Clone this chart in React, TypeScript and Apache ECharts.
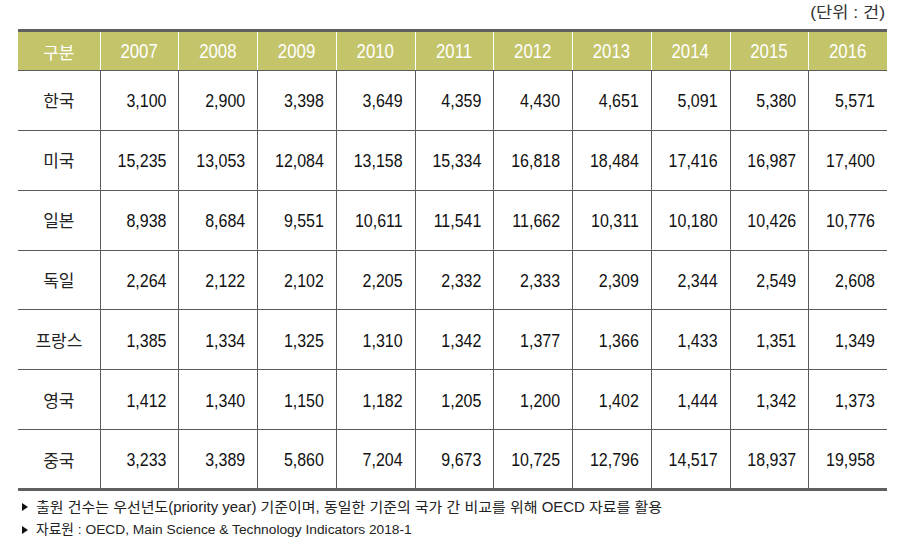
import React, { useEffect, useRef } from 'react';
import * as echarts from 'echarts';

const cornerLabel = '구분';
const years = ['2007', '2008', '2009', '2010', '2011', '2012', '2013', '2014', '2015', '2016'];
const countries = ['한국', '미국', '일본', '독일', '프랑스', '영국', '중국'];
const korea = [3100, 2900, 3398, 3649, 4359, 4430, 4651, 5091, 5380, 5571];
const usa = [15235, 13053, 12084, 13158, 15334, 16818, 18484, 17416, 16987, 17400];
const japan = [8938, 8684, 9551, 10611, 11541, 11662, 10311, 10180, 10426, 10776];
const germany = [2264, 2122, 2102, 2205, 2332, 2333, 2309, 2344, 2549, 2608];
const france = [1385, 1334, 1325, 1310, 1342, 1377, 1366, 1433, 1351, 1349];
const uk = [1412, 1340, 1150, 1182, 1205, 1200, 1402, 1444, 1342, 1373];
const china = [3233, 3389, 5860, 7204, 9673, 10725, 12796, 14517, 18937, 19958];
const unitLabel = '(단위 : 건)';
const notes = [
  '출원 건수는 우선년도(priority year) 기준이며, 동일한 기준의 국가 간 비교를 위해 OECD 자료를 활용',
  '자료원 : OECD, Main Science & Technology Indicators 2018-1',
];

const rowValues = [korea, usa, japan, germany, france, uk, china];
const columns = [cornerLabel, ...years];

const HEADER_FILL = '#c4c46b';
const GRID_LINE = '#5a5a5a';
const BORDER = '#5f5f5f';
const FIRST_EXTRA = 3;
const LATIN = '"Liberation Sans", Arial, sans-serif';
const KR = '"Noto Sans CJK KR", sans-serif';
const MIXED = '"Liberation Sans", "Noto Sans CJK KR", sans-serif';

const fmt = (v: number) => v.toLocaleString('en-US');
const snap = (v: number) => Math.round(v) + 0.5;

function ln(x1: number, y1: number, x2: number, y2: number, w: number, c: string) {
  return { type: 'line', shape: { x1, y1, x2, y2 }, style: { stroke: c, lineWidth: w }, silent: true };
}

function txt(x: number, y: number, text: string, align: string, size: number, family: string, fill: string, sy = 1) {
  return {
    type: 'text',
    x,
    y,
    scaleY: sy,
    style: {
      text,
      fill,
      fontSize: size,
      fontFamily: family,
      align,
      verticalAlign: 'middle',
      textAlign: align,
      textVerticalAlign: 'middle',
    },
    silent: true,
  };
}

function cellBox(api: any) {
  const col = api.value(0);
  const row = api.value(1);
  const c = api.coord([col, row]);
  const s = api.size([1, 1]);
  let x0 = c[0] - s[0] / 2;
  const x1 = c[0] + s[0] / 2;
  if (col === 0) x0 -= FIRST_EXTRA;
  return { col, row, x0, x1, y0: c[1] - s[1] / 2, y1: c[1] + s[1] / 2 };
}

function renderHeader(_params: any, api: any) {
  const { col, x0, x1, y0, y1 } = cellBox(api);
  const rx0 = Math.round(x0), rx1 = Math.round(x1);
  const children: any[] = [
    { type: 'rect', shape: { x: rx0, y: Math.round(y0), width: rx1 - rx0, height: Math.round(y1) - Math.round(y0) }, style: { fill: HEADER_FILL }, silent: true },
  ];
  if (col > 0) children.push(ln(snap(x0), y0, snap(x0), y1, 1, '#ffffff'));
  children.push(ln(rx0, snap(y0), rx1, snap(y0), 3, BORDER));
  children.push(ln(rx0, snap(y1), rx1, snap(y1), 1, GRID_LINE));
  const cx = (x0 + x1) / 2;
  const cy = (y0 + y1) / 2 + 1;
  if (col === 0) children.push(txt(cx, cy, columns[col], 'center', 17, KR, '#ffffff'));
  else children.push(txt(cx, cy, columns[col], 'center', 16.8, LATIN, '#ffffff', 1.18));
  return { type: 'group', children };
}

function renderBody(_params: any, api: any) {
  const { col, row, x0, x1, y0, y1 } = cellBox(api);
  const rx0 = Math.round(x0), rx1 = Math.round(x1);
  const children: any[] = [];
  if (col > 0) children.push(ln(snap(x0), y0, snap(x0), y1, 1, GRID_LINE));
  const last = row === countries.length - 1;
  children.push(ln(rx0, snap(y1), rx1, snap(y1), last ? 3 : 1, last ? BORDER : GRID_LINE));
  const cy = (y0 + y1) / 2;
  if (col === 0) {
    children.push(txt((x0 + x1) / 2, cy, countries[row], 'center', 17, KR, '#222222'));
  } else {
    children.push(txt(x1 - 12, cy + 1, fmt(rowValues[row][col - 1]), 'right', 16, LATIN, '#111111', 1.15));
  }
  return { type: 'group', children };
}

export default function App() {
  const ref = useRef<HTMLDivElement>(null);
  useEffect(() => {
    if (!ref.current) return;
    const chart = echarts.init(ref.current, undefined, { renderer: 'svg' });
    const headerData = columns.map((_, i) => [i, 0]);
    const bodyData: number[][] = [];
    countries.forEach((_, r) => columns.forEach((__, c) => bodyData.push([c, r])));
    chart.setOption({
      animation: false,
      backgroundColor: '#ffffff',
      grid: [
        { left: 21, right: 11, top: 30, height: 40 },
        { left: 21, right: 11, top: 70, height: 419 },
      ],
      xAxis: [
        { type: 'category', gridIndex: 0, data: columns, show: false },
        { type: 'category', gridIndex: 1, data: columns, show: false },
      ],
      yAxis: [
        { type: 'category', gridIndex: 0, data: ['header'], show: false },
        { type: 'category', gridIndex: 1, data: countries, inverse: true, show: false },
      ],
      series: [
        { type: 'custom', xAxisIndex: 0, yAxisIndex: 0, renderItem: renderHeader, data: headerData, silent: true },
        { type: 'custom', xAxisIndex: 1, yAxisIndex: 1, renderItem: renderBody, data: bodyData, silent: true },
      ],
      graphic: [
        { type: 'text', x: 885, y: 13, scaleX: 1.1, style: { text: unitLabel, fontSize: 16, fontFamily: MIXED, fill: '#333333', align: 'right', verticalAlign: 'middle', textAlign: 'right', textVerticalAlign: 'middle' } },
        { type: 'polygon', shape: { points: [[22, 503], [28, 507], [22, 511]] }, style: { fill: '#111111' } },
        { type: 'text', x: 36, y: 507, scaleX: 1.07, style: { text: notes[0], fontSize: 14, fontFamily: MIXED, fill: '#222222', align: 'left', verticalAlign: 'middle', textAlign: 'left', textVerticalAlign: 'middle' } },
        { type: 'polygon', shape: { points: [[22, 526], [28, 530], [22, 534]] }, style: { fill: '#111111' } },
        { type: 'text', x: 36, y: 530, scaleX: 1.02, style: { text: notes[1], fontSize: 13.5, fontFamily: MIXED, fill: '#222222', align: 'left', verticalAlign: 'middle', textAlign: 'left', textVerticalAlign: 'middle' } },
      ],
    });
    return () => chart.dispose();
  }, []);
  return <div ref={ref} style={{ position: 'absolute', left: 0, top: 0, width: 898, height: 552 }} />;
}
